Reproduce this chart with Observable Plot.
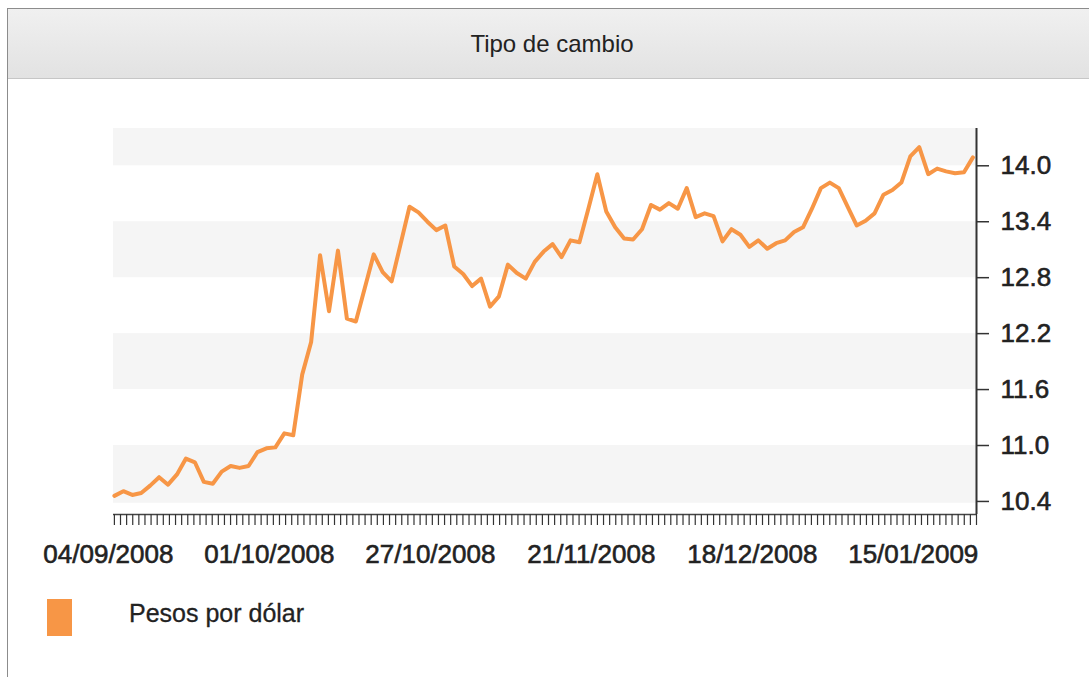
<!DOCTYPE html>
<html>
<head>
<meta charset="utf-8">
<script src="https://cdn.jsdelivr.net/npm/d3@7"></script>
<script src="https://cdn.jsdelivr.net/npm/@observablehq/plot@0.6"></script>
<style>
  html, body { margin: 0; padding: 0; background: #fff; overflow: hidden; width: 1089px; height: 677px; }
  body { font-family: "Liberation Sans", Arial, sans-serif; position: relative; }
  #frame { position: absolute; left: 7px; top: 8px; width: 1090px; height: 680px; border-left: 1px solid #8c8c8c; border-top: 1px solid #8c8c8c; }
  #titlebar { position: absolute; left: 0; top: 0; width: 1088px; height: 69px; background: linear-gradient(#f0f0f0, #e2e2e2); border-bottom: 1px solid #c6c6c6; display: flex; align-items: center; justify-content: center; font-size: 24px; color: #222; }
  #chart { position: absolute; left: 1px; top: 70px; }
  #chart svg g[aria-label="x-axis tick label"] text,
  #chart svg g[aria-label="y-axis tick label"] text { stroke: #222; stroke-width: 0.6px; }
  #swatch { position: absolute; left: 39px; top: 590px; width: 25px; height: 37px; background: #f79646; }
  #legtext { position: absolute; left: 121px; top: 586px; height: 37px; line-height: 37px; font-size: 25px; color: #222; -webkit-text-stroke: 0.3px #222; }
</style>
</head>
<body>
<div id="frame">
  <div id="titlebar">Tipo de cambio</div>
  <div id="chart"></div>
  <div id="swatch"></div>
  <div id="legtext">Pesos por dólar</div>
</div>
<script>
// Dates (business days) and exchange-rate values (pesos per dollar)
const dates = [
  "04/09/2008","05/09/2008","08/09/2008","09/09/2008","10/09/2008","11/09/2008","12/09/2008","15/09/2008","17/09/2008","18/09/2008",
  "19/09/2008","22/09/2008","23/09/2008","24/09/2008","25/09/2008","26/09/2008","29/09/2008","30/09/2008","01/10/2008","02/10/2008",
  "03/10/2008","06/10/2008","07/10/2008","08/10/2008","09/10/2008","10/10/2008","13/10/2008","14/10/2008","15/10/2008","16/10/2008",
  "17/10/2008","20/10/2008","21/10/2008","22/10/2008","23/10/2008","24/10/2008","27/10/2008","28/10/2008","29/10/2008","30/10/2008",
  "31/10/2008","03/11/2008","04/11/2008","05/11/2008","06/11/2008","07/11/2008","10/11/2008","11/11/2008","12/11/2008","13/11/2008",
  "14/11/2008","18/11/2008","19/11/2008","20/11/2008","21/11/2008","24/11/2008","25/11/2008","26/11/2008","27/11/2008","28/11/2008",
  "01/12/2008","02/12/2008","03/12/2008","04/12/2008","05/12/2008","08/12/2008","09/12/2008","10/12/2008","11/12/2008","15/12/2008",
  "16/12/2008","17/12/2008","18/12/2008","19/12/2008","22/12/2008","23/12/2008","24/12/2008","26/12/2008","29/12/2008","30/12/2008",
  "31/12/2008","02/01/2009","05/01/2009","06/01/2009","07/01/2009","08/01/2009","09/01/2009","12/01/2009","13/01/2009","14/01/2009",
  "15/01/2009","16/01/2009","19/01/2009","20/01/2009","21/01/2009","22/01/2009","23/01/2009"
];
const values = [
  10.46,10.51,10.47,10.49,10.57,10.66,10.58,10.69,10.86,10.82,
  10.61,10.59,10.72,10.78,10.76,10.78,10.93,10.97,10.98,11.13,
  11.11,11.76,12.11,13.04,12.44,13.09,12.36,12.33,12.69,13.05,
  12.86,12.76,13.16,13.56,13.50,13.40,13.31,13.36,12.92,12.84,
  12.71,12.79,12.49,12.60,12.94,12.85,12.79,12.97,13.08,13.16,
  13.02,13.20,13.18,13.54,13.91,13.51,13.34,13.22,13.21,13.32,
  13.58,13.53,13.60,13.54,13.76,13.45,13.49,13.46,13.19,13.32,
  13.26,13.13,13.20,13.11,13.17,13.20,13.29,13.34,13.54,13.76,
  13.82,13.76,13.56,13.36,13.41,13.49,13.69,13.74,13.82,14.10,
  14.20,13.91,13.97,13.94,13.92,13.93,14.09
];
const seriesName = "Pesos por dólar";
const yTicks = [10.4, 11.0, 11.6, 12.2, 12.8, 13.4, 14.0];
const labelIndex = [0, 18, 36, 54, 72, 90];
const bandLow = [10.38, 11.6, 12.8, 14.0];
const bandHigh = [11.0, 12.2, 13.4, 14.4];

const data = values.map((v, i) => ({i, v, date: dates[i]}));
const bands = bandLow.map((lo, k) => ({lo, hi: bandHigh[k]}));

const xDomain = [-0.1, 96.4];
const yDomain = [10.26, 14.4];
const minorTicks = d3.range(0, 142).map(k => k * xDomain[1] / 141);

const color = "#f79646";
const ink = "#222";

const chart = Plot.plot({
  width: 1081,
  height: 510,
  marginLeft: 104,
  marginRight: 114,
  marginTop: 49,
  marginBottom: 75,
  style: {fontFamily: '"Liberation Sans", Arial, sans-serif', color: ink, background: "transparent"},
  x: {domain: xDomain, label: null},
  y: {domain: yDomain, label: null},
  marks: [
    Plot.rect(bands, {y1: "lo", y2: "hi", fill: "#f5f5f5"}),
    Plot.line(data, {x: "i", y: "v", stroke: color, strokeWidth: 4, strokeLinejoin: "round", strokeLinecap: "round"}),
    Plot.ruleY([yDomain[0]], {stroke: "#444", strokeWidth: 1.5}),
    Plot.ruleX([xDomain[1]], {stroke: "#333", strokeWidth: 2}),
    Plot.axisX({ticks: minorTicks, tickSize: 11, tickFormat: () => "", stroke: "#333", strokeWidth: 1.2, label: null}),
    Plot.axisX({ticks: labelIndex, tickSize: 0, tickPadding: 30, tickFormat: i => dates[i], fontSize: 26, fill: ink, dx: -6, label: null}),
    Plot.axisY({anchor: "right", ticks: yTicks, tickSize: 12, tickPadding: 12, tickFormat: d3.format(".1f"), fontSize: 26, fill: ink, stroke: "#333", strokeWidth: 1.5, label: null})
  ]
});
document.getElementById("chart").appendChild(chart);
</script>
</body>
</html>
